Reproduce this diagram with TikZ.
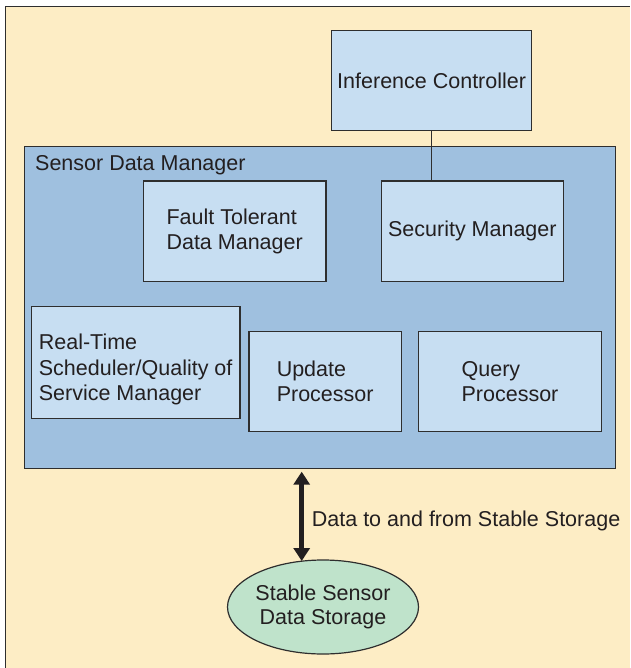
\documentclass[tikz,border=0pt]{standalone}
\usepackage{fontspec}
\setmainfont{Liberation Sans}
\usetikzlibrary{arrows.meta,shapes.geometric}
\definecolor{paper}{HTML}{FDEDC5}
\definecolor{mgrblue}{HTML}{9FC0DF}
\definecolor{boxblue}{HTML}{C7DEF2}
\definecolor{storegreen}{HTML}{BFE3CB}
\definecolor{ink}{HTML}{231F20}
\definecolor{edge}{HTML}{2E2E2E}
\begin{document}
\begin{tikzpicture}[x=1pt,y=-1pt,
  every node/.style={font=\fontsize{21.5pt}{25.3pt}\selectfont, text=ink},
  container/.style={draw=edge, line width=1.2pt, fill=mgrblue, rectangle,
    inner sep=0pt, anchor=north west},
  component/.style={draw=edge, line width=1.3pt, fill=boxblue, rectangle,
    inner sep=0pt, anchor=north west},
  storage/.style={draw=edge, line width=1.2pt, fill=storegreen, ellipse,
    inner sep=0pt, align=center,
    font=\fontsize{21.5pt}{24.5pt}\selectfont},
  link/.style={draw=edge, line width=1.2pt},
  dataflow/.style={draw=ink, line width=4.5pt,
    {Triangle[width=16pt,length=13pt]}-{Triangle[width=16pt,length=13pt]}}
]
\useasboundingbox (0,0) rectangle (630,668);

% page background with frame on the top and left
\fill[white] (0,0) rectangle (630,668);
\fill[paper] (5.7,6.3) rectangle (630,668);
\draw[edge, line width=1.2pt] (5.7,668) -- (5.7,6.3) -- (630,6.3);

% inference controller above the manager
\node[component, minimum width=200pt, minimum height=100pt, align=center]
  (ic) at (331,30) {Inference Controller};

% sensor data manager and its components
\node[container, minimum width=591pt, minimum height=322pt] (sdm) at (24,145.7) {};
\node[anchor=base west, inner sep=0pt] (sdmlabel) at (35,170.7) {Sensor Data Manager};

\node[component, minimum width=182.6pt, minimum height=100.4pt, align=left]
  (ft) at (142.7,180.3) {Fault Tolerant\\Data Manager};
\node[component, minimum width=182pt, minimum height=100.4pt, align=center]
  (sm) at (380.7,180.3) {Security Manager};
\node[component, minimum width=208.6pt, minimum height=112.3pt, align=left]
  (rt) at (30.7,305.7) {\rule{0pt}{30pt}Real-Time\\Scheduler/Quality of\\Service Manager};
\node[component, minimum width=152.4pt, minimum height=100.3pt, align=left]
  (up) at (248.3,330.7) {Update\\Processor};
\node[component, minimum width=182.7pt, minimum height=100.3pt, align=left]
  (qp) at (418,330.7) {Query\\Processor};

\draw[link] (ic.south) -- (ic.south |- sm.north);

% stable storage and the data path to it
\node[storage, minimum width=170pt, minimum height=94pt] (store) at (323,607)
  {Stable Sensor\\Data Storage};
\coordinate (iotop) at (301.7,471.7);
\coordinate (iobot) at (301.7,561);
\draw[dataflow] (iotop) -- (iobot);
\node[anchor=base west, inner sep=0pt] (iolabel) at (311.7,526.7)
  {Data to and from Stable Storage};
\end{tikzpicture}
\end{document}
